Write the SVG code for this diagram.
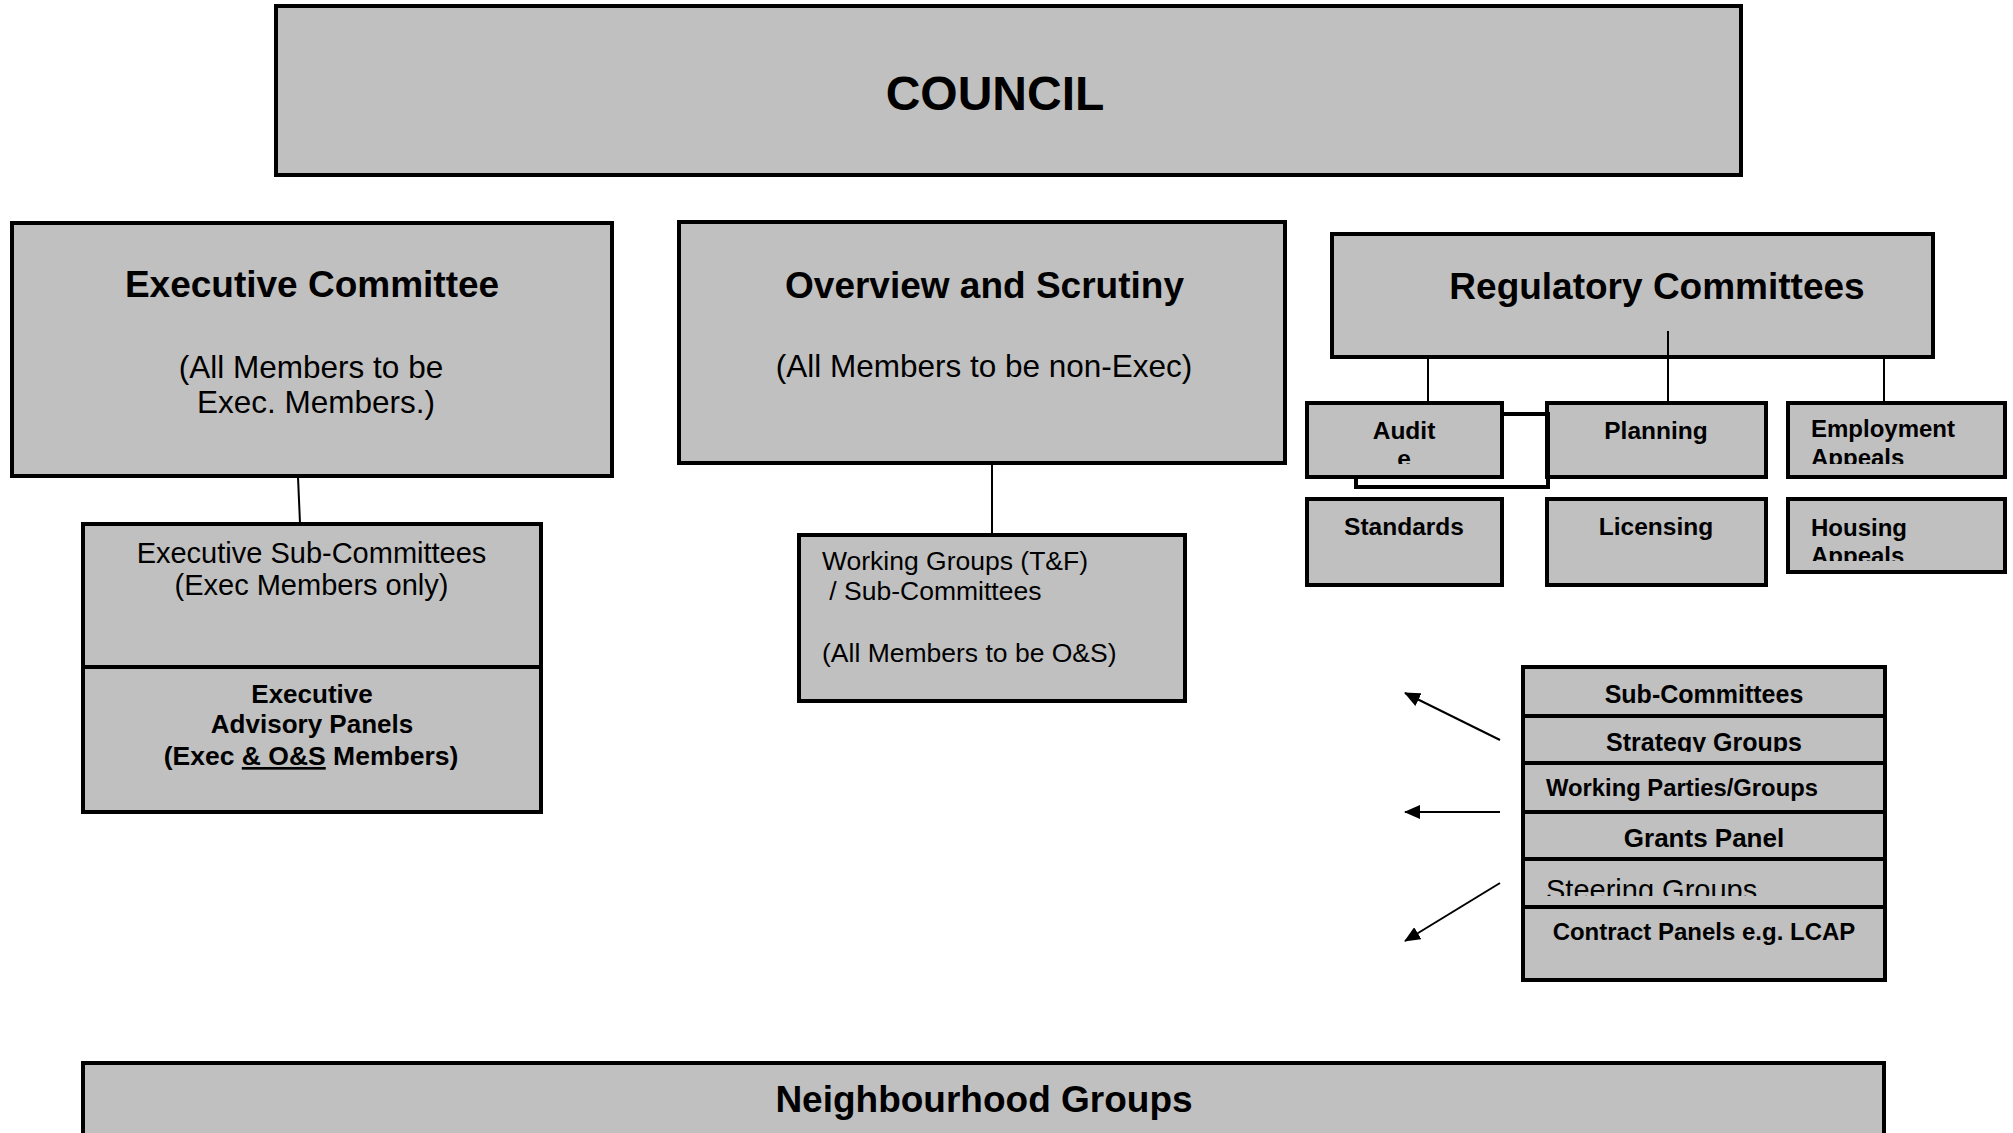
<svg xmlns="http://www.w3.org/2000/svg" width="2013" height="1133" viewBox="0 0 2013 1133">
<style>
.box{fill:#c0c0c0;stroke:#000;stroke-width:4}
.t{font-family:"Liberation Sans",Arial,Helvetica,sans-serif;fill:#000}
.b{font-weight:bold}
.c{text-anchor:middle}
.ln{stroke:#000;stroke-width:2;fill:none}
.thick{stroke:#000;stroke-width:4;fill:none}
</style>
<defs>
<marker id="ah" markerUnits="userSpaceOnUse" markerWidth="16" markerHeight="14" refX="15" refY="7" orient="auto">
<path d="M0,0 L16,7 L0,14 Z" fill="#000"/>
</marker>
<clipPath id="cAudit"><rect x="1307" y="403" width="195" height="61"/></clipPath>
<clipPath id="cEmp"><rect x="1787" y="403" width="220" height="61"/></clipPath>
<clipPath id="cHou"><rect x="1787" y="498" width="220" height="63"/></clipPath>
<clipPath id="cStrat"><rect x="1523" y="716" width="362" height="36"/></clipPath>
<clipPath id="cSteer"><rect x="1523" y="859" width="362" height="37"/></clipPath>
</defs>
<rect width="2013" height="1133" fill="#fff"/>

<g id="council">
<rect class="box" x="276" y="6" width="1465" height="169"/>
<text class="t b c" x="995" y="110" font-size="48">COUNCIL</text>
</g>

<g id="executive-committee">
<rect class="box" x="12" y="223" width="600" height="253"/>
<text class="t b c" x="312" y="297" font-size="37">Executive Committee</text>
<text class="t c" x="311" y="378" font-size="31.5">(All Members to be</text>
<text class="t c" x="316" y="413" font-size="31.5">Exec. Members.)</text>
</g>

<g id="executive-sub-committees">
<rect class="box" x="83" y="524" width="458" height="143"/>
<text class="t c" x="311.5" y="563" font-size="29">Executive Sub-Committees</text>
<text class="t c" x="311.5" y="595" font-size="29">(Exec Members only)</text>
</g>

<g id="executive-advisory-panels">
<rect class="box" x="83" y="667" width="458" height="145"/>
<text class="t b c" x="312" y="703" font-size="26">Executive</text>
<text class="t b c" x="312" y="733" font-size="26">Advisory Panels</text>
<text class="t b c" x="311" y="765" font-size="26.5">(Exec <tspan text-decoration="underline">&amp; O&amp;S</tspan> Members)</text>
</g>

<g id="overview-scrutiny">
<rect class="box" x="679" y="222" width="606" height="241"/>
<text class="t b c" x="984.5" y="298" font-size="37">Overview and Scrutiny</text>
<text class="t c" x="984" y="377" font-size="31.5">(All Members to be non-Exec)</text>
</g>

<g id="working-groups">
<rect class="box" x="799" y="535" width="386" height="166"/>
<text class="t" x="822" y="570" font-size="26.5">Working Groups (T&amp;F)</text>
<text class="t" x="822" y="600" font-size="26.5" xml:space="preserve"> / Sub-Committees</text>
<text class="t" x="822" y="662" font-size="26.5">(All Members to be O&amp;S)</text>
</g>

<g id="regulatory-committees">
<rect class="box" x="1332" y="234" width="601" height="123"/>
<text class="t b c" x="1657" y="299" font-size="37">Regulatory Committees</text>
</g>

<g id="audit">
<rect class="box" x="1307" y="403" width="195" height="74"/>
<g clip-path="url(#cAudit)">
<text class="t b c" x="1404" y="439" font-size="24.5">Audit</text>
<text class="t b c" x="1404" y="467" font-size="24.5">e</text>
</g>
</g>

<g id="planning">
<rect class="box" x="1547" y="403" width="219" height="74"/>
<text class="t b c" x="1656" y="439" font-size="24.5">Planning</text>
</g>

<g id="employment-appeals">
<rect class="box" x="1788" y="403" width="217" height="74"/>
<g clip-path="url(#cEmp)">
<text class="t b" x="1811" y="437" font-size="24">Employment</text>
<text class="t b" x="1811" y="466" font-size="24">Appeals</text>
</g>
</g>

<g id="standards">
<rect class="box" x="1307" y="499" width="195" height="86"/>
<text class="t b c" x="1404" y="535" font-size="24.5">Standards</text>
</g>

<g id="licensing">
<rect class="box" x="1547" y="499" width="219" height="86"/>
<text class="t b c" x="1656" y="535" font-size="24.5">Licensing</text>
</g>

<g id="housing-appeals">
<rect class="box" x="1788" y="499" width="217" height="73"/>
<g clip-path="url(#cHou)">
<text class="t b" x="1811" y="536" font-size="24">Housing</text>
<text class="t b" x="1811" y="564" font-size="24">Appeals</text>
</g>
</g>

<g id="sub-committees">
<rect class="box" x="1523" y="667" width="362" height="49"/>
<text class="t b c" x="1704" y="703" font-size="25">Sub-Committees</text>
</g>
<g id="strategy-groups">
<rect class="box" x="1523" y="716" width="362" height="47"/>
<g clip-path="url(#cStrat)"><text class="t b c" x="1704" y="751" font-size="25">Strategy Groups</text></g>
</g>
<g id="working-parties">
<rect class="box" x="1523" y="763" width="362" height="49"/>
<text class="t b" x="1546" y="796" font-size="23.8">Working Parties/Groups</text>
</g>
<g id="grants-panel">
<rect class="box" x="1523" y="812" width="362" height="47"/>
<text class="t b c" x="1704" y="847" font-size="26">Grants Panel</text>
</g>
<g id="steering-groups">
<rect class="box" x="1523" y="859" width="362" height="48"/>
<g clip-path="url(#cSteer)"><text class="t" x="1546" y="900" font-size="29">Steering Groups</text></g>
</g>
<g id="contract-panels">
<rect class="box" x="1523" y="907" width="362" height="73"/>
<text class="t b c" x="1704" y="940" font-size="24">Contract Panels e.g. LCAP</text>
</g>

<g id="neighbourhood-groups">
<rect class="box" x="83" y="1063" width="1801" height="90"/>
<text class="t b c" x="984" y="1112" font-size="37">Neighbourhood Groups</text>
</g>

<g id="connectors">
<line class="ln" x1="298" y1="477" x2="300" y2="523"/>
<line class="ln" x1="992" y1="464" x2="992" y2="535"/>
<line class="ln" x1="1428" y1="357" x2="1428" y2="403"/>
<line class="ln" x1="1668" y1="331" x2="1668" y2="403"/>
<line class="ln" x1="1884" y1="357" x2="1884" y2="403"/>
<path class="thick" d="M1502,414 H1548 V487 H1356 V477"/>
<line class="ln" x1="1500" y1="740" x2="1405" y2="693" marker-end="url(#ah)"/>
<line class="ln" x1="1500" y1="812" x2="1405" y2="812" marker-end="url(#ah)"/>
<line class="ln" x1="1500" y1="883" x2="1405" y2="941" marker-end="url(#ah)"/>
</g>
</svg>
